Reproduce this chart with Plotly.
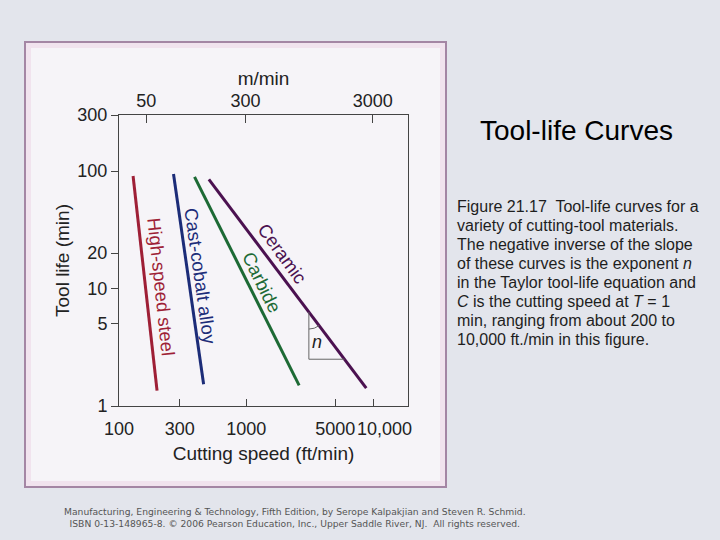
import numpy as np
import plotly.graph_objects as go

# ---------------- data ----------------
materials = ["High-speed steel", "Cast-cobalt alloy", "Carbide", "Ceramic"]
speed_start = [129, 268, 392, 508]        # ft/min at top end of each line
speed_end = [199, 462, 2600, 8750]        # ft/min at bottom end
life_start = [90.8, 94.5, 89.2, 84.8]     # min at top end
life_end = [1.35, 1.53, 1.50, 1.42]       # min at bottom end
colors = ["#9e1f36", "#1c2c78", "#1d6a35", "#4b1150"]

x_ticks = [100, 300, 1000, 5000, 10000]
x_ticktext = ["100", "300", "1000", "5000", "10,000"]
top_ticks = [50, 300, 3000]               # m/min
y_ticks = [1, 5, 10, 20, 100, 300]

label_x = [216, 434, 1321, 1918]
label_y = [10.3, 12.6, 11.2, 19.9]
label_angle = [84, 82, 64, 54]

tri_speed = [3100, 5900]                  # slope triangle on the ceramic line
FT_TO_M = 0.3048

caption_lines = [
    "Figure 21.17\u00a0 Tool-life curves for a",
    "variety of cutting-tool materials.",
    "The negative inverse of the slope",
    "of these curves is the exponent <i>n</i>",
    "in the Taylor tool-life equation and",
    "<i>C</i> is the cutting speed at <i>T</i> = 1",
    "min, ranging from about 200 to",
    "10,000 ft./min in this figure.",
]

# ---------------- layout constants ----------------
W, H = 720, 540
L, R, T, B = 119, 312, 115, 134
PW, PH = W - L - R, H - T - B
XR = [2.0, 4.27]
YR = [0.0, np.log10(300)]
FONT = "Liberation Sans, Arial, sans-serif"


def pxx(px):
    return (px - L) / PW


def pxy(py):
    return (H - B - py) / PH


fig = go.Figure()

for name, x0, x1, y0, y1, c in zip(materials, speed_start, speed_end,
                                    life_start, life_end, colors):
    fig.add_trace(go.Scatter(x=[x0, x1], y=[y0, y1], mode="lines",
                             line=dict(color=c, width=3), name=name,
                             showlegend=False, hoverinfo="skip"))

# slope triangle on ceramic line
cx = np.log10([speed_start[3], speed_end[3]])
cy = np.log10([life_start[3], life_end[3]])
tl = np.log10(tri_speed)
ty = np.interp(tl, cx, cy)
fig.add_trace(go.Scatter(x=[10 ** tl[0], 10 ** tl[0], 10 ** tl[1]],
                         y=[10 ** ty[0], 10 ** ty[1], 10 ** ty[1]],
                         mode="lines", line=dict(color="#666666", width=1),
                         showlegend=False, hoverinfo="skip"))
# small angle arc
kx = PW / (XR[1] - XR[0])
ky = PH / (YR[1] - YR[0])
dxp = (cx[1] - cx[0]) * kx
dyp = (cy[0] - cy[1]) * ky
ang = np.arctan2(dxp, dyp)
th = np.linspace(0, ang, 20)
rr = 17
ax_ = tl[0] + rr * np.sin(th) / kx
ay_ = ty[0] - rr * np.cos(th) / ky
fig.add_trace(go.Scatter(x=10 ** ax_, y=10 ** ay_, mode="lines",
                         line=dict(color="#666666", width=1),
                         showlegend=False, hoverinfo="skip"))
# invisible trace so the top (m/min) axis is drawn
fig.add_trace(go.Scatter(x=[top_ticks[0]], y=[1], xaxis="x2", mode="markers",
                         marker=dict(opacity=0), showlegend=False,
                         hoverinfo="skip"))

tick_font = dict(family=FONT, size=18, color="#222222")
title_font = dict(family=FONT, size=19, color="#222222")

annotations = []
for name, lx, ly, a, c in zip(materials, label_x, label_y, label_angle, colors):
    annotations.append(dict(x=np.log10(lx), y=np.log10(ly), xref="x", yref="y",
                            text=name, showarrow=False, textangle=a,
                            font=dict(family=FONT, size=18.5, color=c)))
annotations.append(dict(x=np.log10(3600), y=np.log10(3.5), xref="x", yref="y",
                        text="<i>n</i>", showarrow=False,
                        font=dict(family=FONT, size=18, color="#222222")))
# last bottom tick label, nudged right as in the original figure
annotations.append(dict(x=np.log10(x_ticks[-1]), y=pxy(429), xref="x",
                        yref="paper", text=x_ticktext[-1], showarrow=False,
                        xanchor="center", yanchor="middle", xshift=11,
                        font=tick_font))

annotations.append(dict(x=pxx(576), y=pxy(130), xref="paper", yref="paper",
                        text="Tool-life Curves", showarrow=False,
                        xanchor="center", yanchor="middle",
                        font=dict(family=FONT, size=28, color="#000000")))
for i, line in enumerate(caption_lines):
    annotations.append(dict(x=pxx(455), y=pxy(206.5 + 19 * i),
                            xref="paper", yref="paper",
                            text=line, showarrow=False, align="left",
                            xanchor="left", yanchor="middle",
                            font=dict(family=FONT, size=16, color="#1e1e1e")))
footer = ("Manufacturing, Engineering & Technology, Fifth Edition, by Serope "
          "Kalpakjian and Steven R. Schmid.<br>"
          "ISBN 0-13-148965-8. \u00a9 2006 Pearson Education, Inc., Upper "
          "Saddle River, NJ.\u00a0 All rights reserved.")
annotations.append(dict(x=pxx(295), y=pxy(517.5), xref="paper", yref="paper",
                        text=footer, showarrow=False, align="center",
                        xanchor="center", yanchor="middle",
                        font=dict(family="DejaVu Sans, sans-serif", size=9.2,
                                  color="#555555")))

shapes = [
    dict(type="rect", xref="paper", yref="paper", layer="below",
         x0=pxx(25), x1=pxx(446), y0=pxy(487), y1=pxy(42),
         fillcolor="#f1e3ee", line=dict(color="#a486a4", width=2)),
    dict(type="rect", xref="paper", yref="paper", layer="below",
         x0=pxx(31), x1=pxx(440), y0=pxy(481), y1=pxy(48),
         fillcolor="#f6f4f8", line=dict(width=0)),
]

fig.update_layout(
    width=W, height=H,
    margin=dict(l=L, r=R, t=T, b=B, autoexpand=False),
    paper_bgcolor="#e3e5ec", plot_bgcolor="rgba(0,0,0,0)",
    showlegend=False,
    annotations=annotations, shapes=shapes,
    xaxis=dict(type="log", range=XR, tickvals=x_ticks,
               ticktext=x_ticktext[:-1] + [""],
               tickangle=0,
               ticks="inside", ticklen=7, tickcolor="#444444",
               showline=True, linecolor="#444444", linewidth=1, mirror=True,
               showgrid=False, zeroline=False, tickfont=tick_font,
               ticklabelstandoff=6,
               title=dict(text="Cutting speed (ft/min)", font=title_font,
                          standoff=9)),
    xaxis2=dict(type="log", overlaying="x", side="top", anchor="y",
                range=[XR[0] + np.log10(FT_TO_M), XR[1] + np.log10(FT_TO_M)],
                tickvals=top_ticks, ticktext=[str(v) for v in top_ticks],
                tickangle=0,
                ticks="inside", ticklen=8, tickcolor="#444444",
                showline=True, linecolor="#444444", linewidth=1,
                showgrid=False, zeroline=False, tickfont=tick_font,
                title=dict(text="m/min", font=title_font, standoff=0)),
    yaxis=dict(type="log", range=YR, tickvals=y_ticks,
               ticktext=[str(v) for v in y_ticks],
               ticks="outside", ticklen=7, tickcolor="#444444",
               showline=True, linecolor="#444444", linewidth=1, mirror=True,
               showgrid=False, zeroline=False, tickfont=tick_font,
               title=dict(text="Tool life (min)", font=title_font, standoff=2)),
)

fig.write_html("out.html",
               config={"displayModeBar": False},
               post_script="document.body.style.margin='0';"
                           "document.body.style.overflow='hidden';")
